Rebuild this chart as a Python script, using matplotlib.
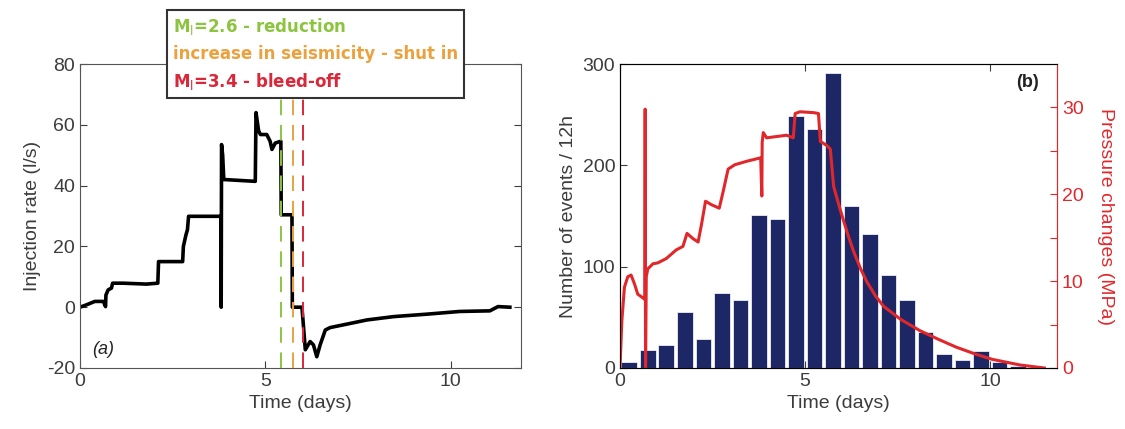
import numpy as np
import matplotlib
matplotlib.use("Agg")
import matplotlib.pyplot as plt
from matplotlib.lines import Line2D

plt.rcParams['font.family'] = ['Liberation Sans', 'DejaVu Sans']
plt.rcParams['axes.unicode_minus'] = False

# (a) injection rate, l/s
t_inj = [0, 0.18, 0.40, 0.63, 0.69, 0.70, 0.76, 0.85, 0.88, 1.16, 1.79, 2.10, 2.12,
         2.77, 2.79, 2.86, 2.90, 2.93, 3.80, 3.81, 3.82, 3.85, 3.88, 4.73, 4.75, 4.82,
         4.87, 5.04, 5.13, 5.18, 5.27, 5.42, 5.43, 5.72, 5.73, 5.99, 6.08, 6.21, 6.30,
         6.39, 6.48, 6.62, 6.75, 7.11, 7.74, 8.46, 9.35, 10.25, 11.06, 11.28, 11.60]
q_inj = [0, 0.8, 1.9, 1.9, 0.2, 4.0, 5.7, 6.3, 7.9, 7.9, 7.6, 7.9, 15, 15, 20, 23.8,
         25.5, 29.9, 29.9, 0, 53.5, 50, 42, 41.4, 64, 58, 56.8, 56.8, 54.6, 51.9, 54,
         54.6, 30.4, 30.4, 0, 0, -14, -11.3, -12.4, -16.3, -12.4, -7.5, -6.7, -5.8,
         -4.2, -3.1, -2.3, -1.4, -1.2, 0.2, 0]

# events that changed the injection
ev_times = [5.42, 5.75, 6.02]
ev_labels = ["M$_\\mathrm{l}$=2.6 - reduction",
             "increase in seismicity - shut in",
             "M$_\\mathrm{l}$=3.4 - bleed-off"]
ev_colors = ['#8cc43f', '#eba23e', '#d8283a']

# (b) events per 12h bin
bin_t = np.arange(22) * 0.5 + 0.25
n_events = [6, 18, 23, 55, 29, 74, 67, 151, 147, 249, 236, 291, 160, 132, 92, 67,
            36, 14, 8, 17, 6, 2]

# (b) wellhead pressure change, MPa
t_p = [0, 0.05, 0.12, 0.21, 0.30, 0.39, 0.48, 0.61, 0.67, 0.68, 0.69, 0.71, 0.75,
       0.89, 1.02, 1.25, 1.52, 1.70, 1.81, 1.97, 2.11, 2.20, 2.31, 2.47, 2.68, 2.78,
       2.92, 3.10, 3.42, 3.80, 3.83, 3.84, 3.87, 3.96, 4.32, 4.50, 4.68, 4.73, 4.86,
       5.23, 5.36, 5.41, 5.59, 5.68, 5.77, 5.95, 6.15, 6.31, 6.50, 6.67, 6.90, 7.12,
       7.58, 8.10, 8.60, 9.08, 9.60, 10.05, 10.8, 11.46]
p = [0, 5.4, 9.3, 10.5, 10.7, 9.7, 8.5, 8.1, 7.9, 29.8, 0, 10.5, 11.4, 12.0, 12.1,
     12.6, 13.6, 14.0, 15.5, 14.9, 14.5, 16.5, 19.2, 18.8, 18.4, 20.2, 22.9, 23.4,
     23.8, 24.2, 19.8, 26.0, 27.1, 26.5, 26.7, 26.8, 26.5, 29.3, 29.5, 29.4, 29.3,
     26.1, 25.6, 25.2, 20.9, 18.2, 15.4, 13.4, 11.4, 9.9, 8.3, 7.1, 5.6, 4.3, 3.3,
     2.4, 1.6, 1.0, 0.35, 0]

gray = '#3c3c3c'
red = '#e0282c'
navy = '#1e2766'

fig = plt.figure(figsize=(11.25, 4.29), dpi=100)

# ---- panel a
ax1 = fig.add_axes([0.0711, 0.1422, 0.392, 0.7086])
ax1.plot(t_inj, q_inj, color='black', lw=2.6, zorder=2)
for t, c in zip(ev_times, ev_colors):
    ax1.axvline(t, color=c, lw=1.4, dashes=(8, 5), zorder=3)
ax1.set_xlim(0, 11.9)
ax1.set_ylim(-20, 80)
ax1.set_xticks([0, 5, 10])
ax1.set_yticks([-20, 0, 20, 40, 60, 80])
ax1.set_xlabel("Time (days)", fontsize=14, color=gray)
ax1.set_ylabel("Injection rate (l/s)", fontsize=14, color=gray)
ax1.tick_params(direction='in', top=True, right=True, labelsize=14,
                colors=gray, length=5)
for s in ax1.spines.values():
    s.set_color('#555555')
ax1.text(0.63, -14, "(a)", fontsize=13, style='italic', ha='center', va='center',
         color='#222222')

handles = [Line2D([], [], lw=0) for _ in ev_labels]
leg = ax1.legend(handles, ev_labels, loc='upper left',
                 bbox_to_anchor=(167 / 1125, 1 - 10 / 429),
                 bbox_transform=fig.transFigure, handlelength=0, handletextpad=0,
                 fancybox=False, framealpha=1, edgecolor='#333333',
                 fontsize=12, labelspacing=0.5, borderpad=0.35, borderaxespad=0)
leg.get_frame().set_linewidth(1.5)
for txt, c in zip(leg.get_texts(), ev_colors):
    txt.set_color(c)
    txt.set_fontweight('bold')
    txt.set_family(['DejaVu Sans'])

# ---- panel b
ax2 = fig.add_axes([0.5511, 0.1422, 0.3884, 0.7086])
ax2.bar(bin_t, n_events, width=0.42, color=navy, edgecolor='white', lw=0.5)
ax2.set_xlim(0, 11.8)
ax2.set_ylim(0, 300)
ax2.set_xticks([0, 5, 10])
ax2.set_yticks([0, 100, 200, 300])
ax2.set_xlabel("Time (days)", fontsize=14, color=gray)
ax2.set_ylabel("Number of events / 12h", fontsize=14, color=gray)
ax2.tick_params(direction='in', top=True, labelsize=14, colors=gray, length=5)
for s in ax2.spines.values():
    s.set_color('#555555')
ax2.text(11.3, 282, "(b)", fontsize=13, fontweight='bold', ha='right',
         va='center', color='#222222')

ax3 = ax2.twinx()
ax3.plot(t_p, p, color=red, lw=2.2)
ax3.set_ylim(0, 35)
ax3.set_yticks([0, 5, 10, 15, 20, 25, 30])
ax3.set_yticklabels(['0', '', '10', '', '20', '', '30'])
ax3.tick_params(direction='in', labelsize=14, colors=red, length=5)
ax3.spines['right'].set_color(red)
ax3.set_ylabel("Pressure changes (MPa)", fontsize=14, color=red, rotation=270,
               labelpad=22)

fig.savefig("out.png", dpi=100)
